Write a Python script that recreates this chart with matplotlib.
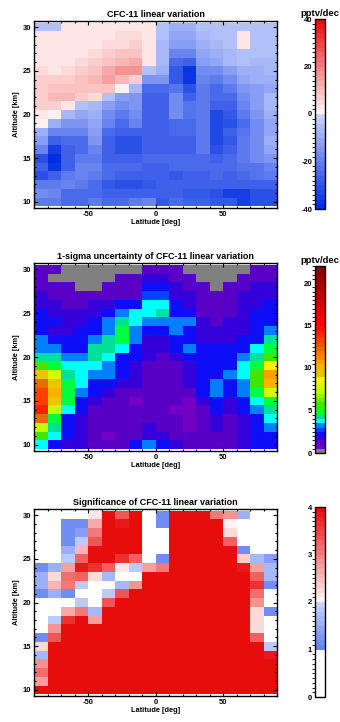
import numpy as np
from matplotlib import pyplot as plt
from matplotlib import colors as mcolors
from matplotlib.ticker import MultipleLocator

plt.rcParams["font.family"] = ["Liberation Sans", "DejaVu Sans"]
plt.rcParams["font.weight"] = "bold"
plt.rcParams["axes.titleweight"] = "bold"
plt.rcParams["axes.labelweight"] = "bold"
plt.rcParams["axes.unicode_minus"] = False

# grid: 18 latitude bins of 10 deg, altitude levels 10..30 km
lat_edges = np.arange(-90, 91, 10)
alt_levels = np.arange(10, 31)
lat_ticks = [-50, 0, 50]
alt_ticks = [10, 15, 20, 25, 30]

# every table below is listed from 30 km (top row) down to 10 km
trend = np.array([
    [-6, -6, 2, 2, 2, 2, 2, 2, 2, -6, -10, -10, -5, -5, -5, -5, -5, -5],
    [2, 2, 2, 2, 2, 2, 4, 4, 2, -6, -11, -11, -8, -6, -5, 2, -5, -5],
    [2, 2, 2, 2, 2, 4, 4, 6, 2, -7, -13, -13, -9, -7, -6, 2, -5, -5],
    [2, 2, 2, 2, 4, 6, 8, 8, 2, -7, -20, -20, -11, -9, -7, -5, -5, -5],
    [2, 2, 2, 4, 6, 8, 11, 13, 2, -7, -26, -28, -14, -11, -8, -6, -7, -7],
    [5, 3, 5, 6, 8, 13, 16, 16, -6, -9, -30, -38, -17, -17, -14, -10, -9, -8],
    [6, 6, 7, 8, 10, 14, 11, 7, -15, -15, -30, -38, -20, -22, -17, -12, -10, -10],
    [7, 8, 9, 9, 9, 9, 1, -8, -26, -26, -24, -32, -22, -25, -22, -16, -14, -12],
    [7, 10, 10, 7, 4, -6, -14, -16, -28, -28, -17, -27, -22, -26, -25, -18, -13, -8],
    [6, 6, 3, -6, -8, -13, -18, -16, -28, -28, -17, -23, -22, -28, -28, -20, -13, -8],
    [3, 1, -8, -12, -10, -17, -22, -17, -28, -28, -18, -23, -22, -33, -30, -22, -15, -9],
    [1, -10, -15, -15, -12, -19, -25, -20, -28, -28, -25, -25, -22, -34, -32, -25, -17, -12],
    [-9, -19, -20, -20, -13, -25, -27, -27, -27, -27, -26, -26, -22, -34, -28, -24, -17, -12],
    [-13, -28, -26, -26, -16, -27, -31, -31, -28, -28, -28, -27, -22, -34, -29, -22, -17, -10],
    [-20, -36, -28, -25, -20, -27, -31, -31, -28, -28, -28, -27, -22, -31, -28, -22, -18, -11],
    [-32, -40, -28, -22, -21, -27, -27, -28, -26, -25, -25, -25, -25, -28, -26, -22, -18, -15],
    [-28, -38, -27, -20, -20, -26, -26, -26, -27, -27, -26, -26, -25, -26, -25, -23, -23, -20],
    [-32, -28, -22, -20, -22, -26, -28, -28, -27, -28, -30, -27, -27, -26, -27, -25, -23, -22],
    [-22, -22, -20, -22, -25, -30, -32, -32, -30, -28, -27, -27, -27, -28, -27, -27, -27, -27],
    [-18, -19, -25, -25, -25, -27, -27, -27, -27, -27, -27, -30, -30, -31, -35, -35, -32, -31],
    [-21, -21, -25, -25, -22, -25, -25, -22, -20, -30, -25, -27, -28, -30, -30, -35, -32, -32],
])

# 0 marks the grey (missing) cells
sigma = np.array([
    [1.2, 1.2, 0, 0, 0, 0, 0, 0, 1.2, 1.2, 1.2, 0, 0, 0, 0, 0, 1.2, 1.2],
    [1.2, 0, 0, 0, 0, 0, 1.2, 1.2, 1.7, 1.7, 1.2, 1.2, 0, 0, 0, 1.2, 1.2, 1.2],
    [1.2, 1.2, 1.2, 0, 0, 1.2, 1.2, 1.2, 2.3, 2.3, 1.7, 1.2, 1.2, 0, 1.2, 1.2, 1.7, 1.7],
    [1.7, 1.2, 1.2, 1.2, 1.2, 1.2, 1.2, 1.2, 2.6, 2.6, 1.9, 1.7, 1.2, 1.2, 1.2, 1.7, 1.9, 1.9],
    [1.9, 1.7, 1.2, 1.2, 1.7, 1.7, 2.3, 2.3, 3.7, 3.7, 2.3, 1.9, 1.2, 1.2, 1.2, 1.7, 1.9, 2.3],
    [2.3, 1.9, 1.7, 1.9, 1.9, 2.3, 3.2, 3.7, 3.7, 4.2, 2.3, 2.3, 1.2, 1.2, 1.2, 1.9, 2.3, 2.3],
    [2.3, 2.3, 1.9, 1.9, 2.3, 3.2, 4.2, 3.7, 3.2, 3.2, 3.2, 3.2, 1.9, 1.2, 1.9, 1.9, 2.3, 2.3],
    [2.3, 1.9, 1.9, 2.3, 2.3, 3.2, 4.8, 3.2, 2.3, 2.3, 3.2, 2.3, 1.9, 1.9, 1.9, 1.9, 2.3, 3.2],
    [3.2, 2.3, 2.3, 2.3, 3.2, 4.2, 4.8, 3.2, 1.9, 1.9, 2.3, 2.3, 1.9, 1.9, 1.9, 2.3, 2.3, 4.2],
    [3.2, 3.2, 2.3, 2.3, 4.2, 4.2, 3.7, 2.3, 1.9, 1.9, 2.3, 3.2, 2.3, 2.3, 2.3, 2.3, 3.7, 4.8],
    [4.2, 4.2, 3.2, 3.2, 4.2, 3.7, 2.3, 2.3, 1.9, 1.2, 1.9, 2.3, 2.3, 2.3, 2.3, 3.2, 4.2, 5.8],
    [5.8, 4.8, 3.7, 3.7, 3.7, 3.2, 2.3, 1.9, 1.2, 1.2, 1.2, 1.9, 2.3, 2.3, 2.3, 3.7, 4.8, 8.8],
    [9.3, 7.7, 4.2, 3.7, 3.2, 3.2, 2.3, 1.9, 1.2, 1.2, 1.2, 1.9, 2.3, 2.3, 3.2, 3.7, 5.8, 10.8],
    [12.2, 9.3, 4.8, 3.7, 2.3, 2.3, 1.9, 1.9, 1.2, 1.2, 1.2, 1.9, 2.3, 3.2, 2.3, 3.2, 5.8, 10.3],
    [13.2, 10.3, 4.8, 3.2, 2.3, 1.9, 1.2, 1.2, 1.2, 1.2, 1.2, 1.2, 2.3, 3.2, 2.3, 3.2, 4.8, 7.7],
    [13.2, 9.3, 4.8, 2.3, 1.9, 1.2, 1.2, 0.8, 1.2, 1.2, 1.2, 0.8, 1.9, 2.3, 1.9, 2.3, 3.7, 4.8],
    [14.3, 7.2, 3.7, 2.3, 1.2, 1.2, 1.2, 1.2, 1.2, 1.2, 0.8, 0.8, 1.2, 2.3, 1.9, 2.3, 3.2, 4.2],
    [12.2, 4.8, 2.3, 1.9, 1.2, 1.2, 1.2, 1.2, 1.2, 1.2, 1.2, 0.8, 1.2, 1.9, 1.2, 1.9, 2.3, 3.7],
    [7.2, 4.2, 2.3, 1.9, 1.2, 1.2, 1.2, 1.2, 1.9, 1.2, 1.2, 0.8, 1.2, 1.9, 1.2, 1.9, 2.3, 3.2],
    [5.8, 3.7, 2.3, 1.9, 1.2, 0.8, 1.2, 1.2, 1.9, 1.9, 1.2, 1.2, 1.2, 1.2, 1.2, 1.9, 2.3, 2.3],
    [3.7, 2.3, 1.9, 1.9, 1.2, 1.2, 1.2, 2.3, 3.2, 2.3, 1.9, 1.2, 1.2, 1.2, 1.2, 1.9, 2.3, 2.3],
])

signif = np.array([
    [0.5, 0.5, 0.5, 0.5, 2.1, 4.5, 3.4, 4.5, 0.5, 1.2, 4.5, 4.5, 4.5, 3.0, 2.9, 1.5, 0.5, 0.5],
    [0.5, 0.5, 1.1, 1.1, 2.6, 4.5, 3.9, 4.5, 0.5, 1.1, 4.5, 4.5, 4.5, 4.5, 2.05, 0.5, 0.5, 0.5],
    [0.5, 0.5, 1.1, 1.4, 3.0, 4.5, 4.5, 4.5, 0.5, 0.5, 4.5, 4.5, 4.5, 4.5, 2.3, 0.5, 0.5, 0.5],
    [0.5, 0.5, 1.1, 1.8, 3.4, 4.5, 4.5, 4.5, 0.5, 0.5, 4.5, 4.5, 4.5, 4.5, 3.2, 0.5, 0.5, 0.5],
    [0.5, 0.5, 1.5, 2.5, 4.5, 4.5, 4.5, 4.5, 0.5, 0.5, 4.5, 4.5, 4.5, 4.5, 4.5, 1.1, 0.5, 0.5],
    [0.5, 0.5, 1.8, 3.3, 4.5, 4.5, 3.6, 3.3, 0.5, 1.1, 4.5, 4.5, 4.5, 4.5, 4.5, 2.4, 1.7, 1.3],
    [1.2, 1.5, 2.7, 3.85, 3.6, 3.3, 2.1, 1.8, 2.7, 3.0, 4.5, 4.5, 4.5, 4.5, 4.5, 3.9, 2.7, 1.6],
    [1.5, 2.3, 3.1, 3.3, 2.3, 1.6, 0.5, 0.5, 4.5, 4.5, 4.5, 4.5, 4.5, 4.5, 4.5, 4.5, 3.2, 1.6],
    [1.5, 2.5, 3.0, 1.8, 0.5, 0.5, 1.6, 2.9, 4.5, 4.5, 4.5, 4.5, 4.5, 4.5, 4.5, 4.5, 3.6, 1.2],
    [1.2, 1.5, 1.2, 0.5, 0.5, 1.8, 3.35, 4.5, 4.5, 4.5, 4.5, 4.5, 4.5, 4.5, 4.5, 4.5, 3.1, 0.5],
    [0.5, 0.5, 0.5, 1.8, 0.5, 3.4, 4.5, 4.5, 4.5, 4.5, 4.5, 4.5, 4.5, 4.5, 4.5, 4.5, 2.9, 0.5],
    [0.5, 0.5, 2.6, 3.0, 1.6, 4.5, 4.5, 4.5, 4.5, 4.5, 4.5, 4.5, 4.5, 4.5, 4.5, 4.5, 2.3, 1.1],
    [0.5, 1.8, 3.6, 4.5, 2.8, 4.5, 4.5, 4.5, 4.5, 4.5, 4.5, 4.5, 4.5, 4.5, 4.5, 4.5, 2.3, 0.5],
    [0.5, 2.9, 4.5, 4.5, 4.5, 4.5, 4.5, 4.5, 4.5, 4.5, 4.5, 4.5, 4.5, 4.5, 4.5, 4.5, 2.3, 0.5],
    [1.2, 3.4, 4.5, 4.5, 4.5, 4.5, 4.5, 4.5, 4.5, 4.5, 4.5, 4.5, 4.5, 4.5, 4.5, 4.5, 3.2, 0.5],
    [2.2, 4.5, 4.5, 4.5, 4.5, 4.5, 4.5, 4.5, 4.5, 4.5, 4.5, 4.5, 4.5, 4.5, 4.5, 4.5, 4.5, 1.8],
    [1.7, 4.5, 4.5, 4.5, 4.5, 4.5, 4.5, 4.5, 4.5, 4.5, 4.5, 4.5, 4.5, 4.5, 4.5, 4.5, 4.5, 3.85],
    [2.9, 4.5, 4.5, 4.5, 4.5, 4.5, 4.5, 4.5, 4.5, 4.5, 4.5, 4.5, 4.5, 4.5, 4.5, 4.5, 4.5, 4.5],
    [3.1, 4.5, 4.5, 4.5, 4.5, 4.5, 4.5, 4.5, 4.5, 4.5, 4.5, 4.5, 4.5, 4.5, 4.5, 4.5, 4.5, 4.5],
    [2.7, 4.5, 4.5, 4.5, 4.5, 4.5, 4.5, 4.5, 4.5, 4.5, 4.5, 4.5, 4.5, 4.5, 4.5, 4.5, 4.5, 4.5],
    [4.5, 4.5, 4.5, 4.5, 4.5, 4.5, 4.5, 4.5, 4.5, 4.5, 4.5, 4.5, 4.5, 4.5, 4.5, 4.5, 4.5, 4.5],
])

# rainbow colour table for the uncertainty panel (value, rgb)
rainbow_nodes = [
    (0.75, (0.45, 0.00, 0.76)), (1.25, (0.35, 0.00, 0.78)), (1.75, (0.20, 0.00, 0.86)),
    (2.25, (0.05, 0.05, 0.97)), (2.75, (0.00, 0.25, 1.00)), (3.25, (0.00, 0.50, 1.00)),
    (3.75, (0.00, 1.00, 1.00)), (4.25, (0.00, 0.88, 0.60)), (4.75, (0.00, 1.00, 0.25)),
    (5.25, (0.10, 1.00, 0.00)), (5.75, (0.25, 0.90, 0.00)), (7.25, (0.75, 1.00, 0.00)),
    (8.75, (1.00, 0.95, 0.00)), (9.25, (0.90, 0.78, 0.00)), (10.25, (1.00, 0.70, 0.00)),
    (10.75, (1.00, 0.62, 0.00)), (11.75, (1.00, 0.45, 0.00)), (12.25, (0.90, 0.42, 0.00)),
    (13.25, (1.00, 0.25, 0.00)), (14.25, (1.00, 0.12, 0.00)), (15.25, (1.00, 0.00, 0.00)),
    (18.0, (0.80, 0.00, 0.00)), (22.0, (0.50, 0.00, 0.00)),
]


def ramp(c0, c1, n):
    c0, c1 = np.array(c0), np.array(c1)
    return [tuple(c0 + (c1 - c0) * t) for t in np.linspace(0, 1, n)]


def rainbow_colors(mids):
    vals = [v for v, _ in rainbow_nodes]
    cols = np.array([c for _, c in rainbow_nodes])
    return [tuple(np.interp(m, vals, cols[:, k]) for k in range(3)) for m in mids]


deep_blue = (0.0, 0.18, 0.88)
light_blue = (0.78, 0.82, 0.99)
pale_red = (1.0, 0.95, 0.95)
full_red = (0.91, 0.05, 0.05)

cmap_trend = mcolors.ListedColormap(ramp(deep_blue, light_blue, 20) + ramp(pale_red, full_red, 20))
bounds_trend = np.linspace(-40, 40, 41)

cmap_sigma = mcolors.ListedColormap([(0.5, 0.5, 0.5)] + rainbow_colors(np.arange(0.75, 22, 0.5)))
bounds_sigma = np.arange(0, 22.01, 0.5)

cmap_signif = mcolors.ListedColormap([(1, 1, 1)] * 10 + ramp((0.40, 0.52, 0.94), light_blue, 10)
                                     + ramp(pale_red, full_red, 20))
bounds_signif = np.linspace(0, 4, 41)


def px_box(left, top, width, height):
    return [left / 340, 1 - (top + height) / 722, width / 340, height / 722]


def draw_panel(fig, ax_box, cax_box, data, cmap, bounds, title, cticks, ctitle=None):
    ax = fig.add_axes(px_box(*ax_box))
    cax = fig.add_axes(px_box(*cax_box))
    norm = mcolors.BoundaryNorm(bounds, cmap.N, clip=True)
    alt_edges = np.append(alt_levels - 0.5, alt_levels[-1] + 0.5)
    mesh = ax.pcolormesh(lat_edges, alt_edges, np.flipud(data), cmap=cmap, norm=norm)

    ax.set_xlim(-90, 90)
    ax.set_ylim(9.3, 30.7)
    ax.set_xticks(lat_ticks)
    ax.set_yticks(alt_ticks)
    ax.xaxis.set_minor_locator(MultipleLocator(10))
    ax.yaxis.set_minor_locator(MultipleLocator(1))
    ax.tick_params(which="both", direction="in", top=True, right=True, labelsize=5.5, pad=2, width=0.8)
    ax.tick_params(which="major", length=3)
    ax.tick_params(which="minor", length=1.6)
    for s in ax.spines.values():
        s.set_linewidth(1.0)
    ax.set_title(title, fontsize=6.5, pad=3)
    ax.set_xlabel("Latitude [deg]", fontsize=5.3, labelpad=1)
    ax.set_ylabel("Altitude [km]", fontsize=5.3, labelpad=2)

    cb = fig.colorbar(mesh, cax=cax, ticks=cticks)
    cax.yaxis.set_ticks_position("left")
    cax.yaxis.set_label_position("left")
    cax.tick_params(labelsize=5.5, length=0, pad=2)
    cb.outline.set_linewidth(1.0)
    if ctitle:
        cax.set_title(ctitle, fontsize=6.8, pad=2.5)
    return ax


fig = plt.figure(figsize=(3.4, 7.22), dpi=100)

draw_panel(fig, (34, 21, 243, 187), (315, 19, 10, 190), trend, cmap_trend, bounds_trend,
           "CFC-11 linear variation", [-40, -20, 0, 20, 40], "pptv/dec")
draw_panel(fig, (34, 263, 243, 188), (315, 266, 10, 187), sigma, cmap_sigma, bounds_sigma,
           "1-sigma uncertainty of CFC-11 linear variation", [0, 5, 10, 15, 20], "pptv/dec")
draw_panel(fig, (34, 509, 243, 187), (315, 507, 10, 190), signif, cmap_signif, bounds_signif,
           "Significance of CFC-11 linear variation", [0, 1, 2, 3, 4])

fig.savefig("out.png", dpi=100)
